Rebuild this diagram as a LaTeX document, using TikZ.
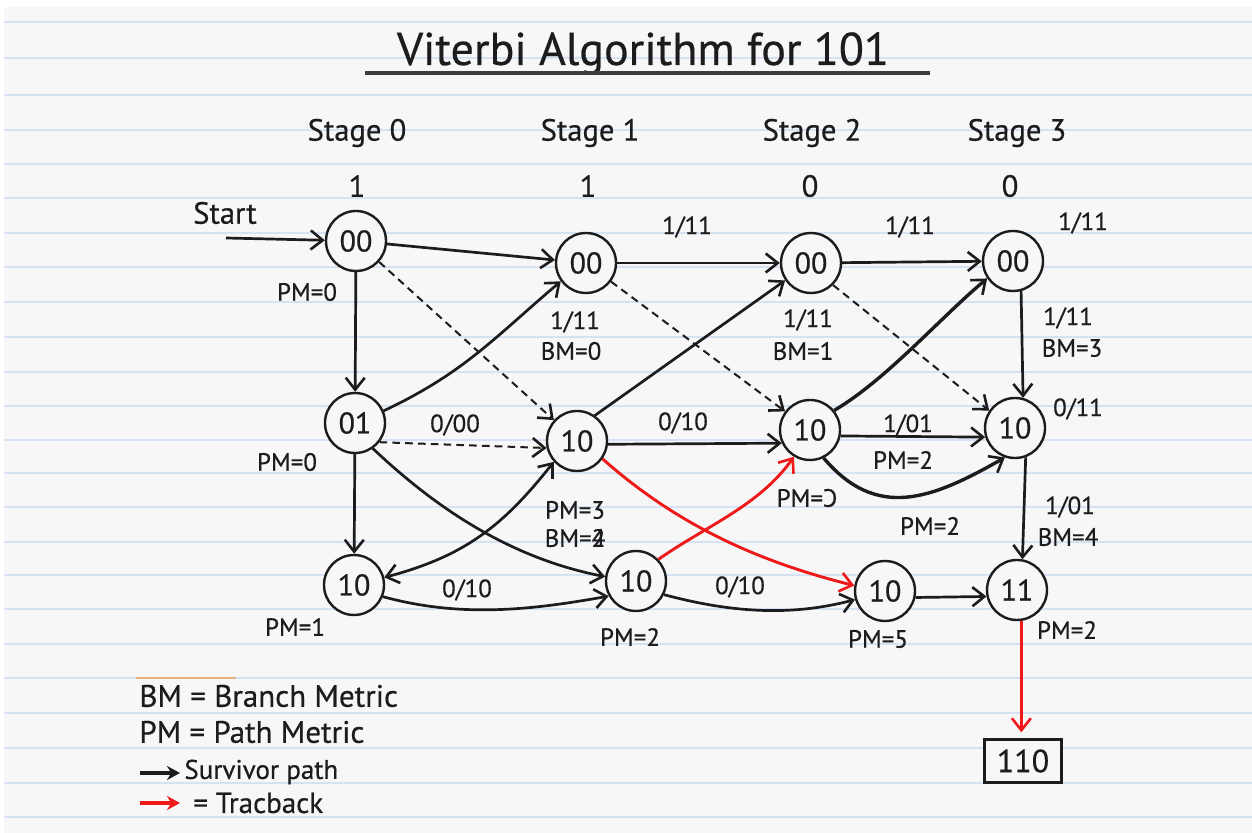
\documentclass[tikz,border=0pt]{standalone}
\usepackage{fontspec}
\setmainfont{PT Sans}[FakeBold=0.5]
\usepackage{graphicx}
\usetikzlibrary{arrows.meta}
\definecolor{paper}{HTML}{F7F7F7}
\definecolor{rulec}{HTML}{D6E2F3}
\definecolor{ink}{HTML}{1C1C1C}
\definecolor{tred}{HTML}{EE1A1A}
\definecolor{orng}{HTML}{E9B27C}
\begin{document}
\begin{tikzpicture}[x=0.5pt,y=-0.5pt,
  st/.style={circle, draw=ink, line width=1.2pt, minimum size=30pt, inner sep=0pt,
    fill=paper, text=ink, font=\fontsize{15}{17}\selectfont},
  tip/.tip={Straight Barb[length=6pt,width=9.5pt,line width=1.3pt]},
  e/.style={draw=ink, line width=1.35pt, -tip},
  eb/.style={e, line width=1.7pt},
  e2/.style={draw=ink, line width=1.35pt, tip-tip},
  dsh/.style={e, line width=1pt, dash pattern=on 3.8pt off 2.6pt},
  tb/.style={e, draw=tred, line width=1.45pt},
  lbl/.style={inner sep=0pt, text=ink, font=\fontsize{12.5}{14}\selectfont},
  stg/.style={inner sep=0pt, text=ink, font=\fontsize{15.3}{18}\selectfont},
  leg/.style={inner sep=0pt, text=ink, font=\fontsize{15.5}{18}\selectfont, anchor=west},
  legs/.style={inner sep=0pt, text=ink, font=\fontsize{13.5}{15}\selectfont, anchor=west},
  legarrow/.style={line width=1.8pt, -{Stealth[length=6.5pt,width=7pt]}}
]
\useasboundingbox (0,0) rectangle (1252,833);
\fill[white] (0,0) rectangle (1252,833);
\fill[paper] (4,7) rectangle (1252,833);
\foreach \yy in {22,58,95,130,164,198,233,267,302,337,372,406,440,473,507,542,575,609,644,678,713,748,783,817}
  \draw[rulec, line width=0.6pt] (4,\yy) -- (1252,\yy);

% title
\node[inner sep=0pt, text=ink, font=\fontsize{23}{27}\selectfont, anchor=base] (title) at (643,65) {Viterbi Algorithm for 101};
\coordinate (ulA) at (365,73);
\coordinate (ulB) at (930,73);
\draw[ink!85, line width=2pt] (ulA) -- (ulB);

% stage headings
\node[stg] (sg0) at (357,133) {Stage 0};
\node[stg] (sg1) at (590,133) {Stage 1};
\node[stg] (sg2) at (812,133) {Stage 2};
\node[stg] (sg3) at (1017,133) {Stage 3};
\node[stg] (bit0) at (357,186) {1};
\node[stg] (bit1) at (588,186) {1};
\node[stg] (bit2) at (810,186) {0};
\node[stg] (bit3) at (1010,186) {0};

% states
\node[st] (s00) at (356,241) {00};
\node[st] (s01) at (355,423) {01};
\node[st] (s10) at (354,585) {10};
\node[st] (t00) at (586,263) {00};
\node[st] (t10) at (577,441) {10};
\node[st] (t10b) at (636,581) {10};
\node[st] (u00) at (811,263) {00};
\node[st] (u10) at (810,430) {10};
\node[st] (u10b) at (885,591) {10};
\node[st] (v00) at (1013,261) {00};
\node[st] (v10) at (1015,428) {10};
\node[st] (v11) at (1017,590) {11};
\node[draw=ink, line width=1.2pt, minimum width=38.5pt, minimum height=21.5pt, inner sep=0pt,
  fill=paper, text=ink, font=\fontsize{16}{18}\selectfont] (res) at (1023,761) {110};

% start
\node[stg] (startlbl) at (225,213) {Start};
\coordinate (startpt) at (226,238);
\draw[e] (startpt) -- (s00);

% stage 0 -> 1
\draw[e] (s00) -- (t00);
\draw[dsh] (s00) -- (t10);
\draw[e] (s00) -- (s01);
\draw[e] (s01.23) .. controls (464,373) and (494,338) .. (t00.-144);
\draw[dsh] (s01.-38) -- (t10.193);
\draw[e] (s01) -- (s10);
\draw[e] (s01.-55) .. controls (441,513) and (515,559) .. (t10b.172);
\draw[e2] (s10.14) .. controls (465,556) and (503,526) .. (t10.-138);
\draw[e] (s10.-22) .. controls (461,618) and (531,610) .. (t10b.209);

% stage 1 -> 2
\draw[e] (t00) -- (u00);
\draw[dsh] (t00) -- (u10);
\draw[e] (t10.55) -- (u00.-146);
\draw[e] (t10.-6) -- (u10.205);
\draw[tb] (t10.-35) .. controls (676,524) and (756,561) .. (u10b.170);
\draw[tb] (t10b.44) .. controls (706,526) and (759,506) .. (u10.-121);
\draw[e] (t10b.-26) .. controls (729,612) and (789,617) .. (u10b.196);

% stage 2 -> 3
\draw[e] (u00) -- (v00);
\draw[dsh] (u00.-45) -- (v10.146);
\draw[eb] (u10.39) .. controls (886,380) and (940,318) .. (v00.-146);
\draw[e] (u10.-11) -- (v10.197);
\draw[eb] (u10.-64) .. controls (877,521) and (932,499) .. (v10.-109);
\draw[e] (v00.-75) -- (v10.75);
\draw[e] (v10.-70) -- (v11.80);
\draw[e] (u10b.-12) -- (v11.192);
\draw[tb, shorten >=3pt] (v11.-82) -- (v11.-82 |- res.north);

% branch / metric labels
\node[lbl] (pmA) at (307,292) {PM=0};
\node[lbl] (brA) at (575,322) {1/11};
\node[lbl] (bmA) at (571,351) {BM=0};
\node[lbl] (brB) at (455,425) {0/00};
\node[lbl] (pmB) at (287,462) {PM=0};
\node[lbl] (brC) at (687,227) {1/11};
\node[lbl] (brD) at (910,227) {1/11};
\node[lbl] (brE) at (1083,223) {1/11};
\node[lbl] (brF) at (808,320) {1/11};
\node[lbl] (bmF) at (803,351) {BM=1};
\node[lbl] (brG) at (683,423) {0/10};
\node[lbl] (brH) at (908,425) {1/01};
\node[lbl] (pmH) at (903,460) {PM=2};
\node[lbl] (brI) at (1068,318) {1/11};
\node[lbl] (bmI) at (1072,348) {BM=3};
\node[lbl] (brJ) at (1078,409) {0/11};
\node[lbl] (pmK) at (575,510) {PM=3};
\node[lbl] (bmK) at (575,538) {BM=\rlap{2}4};
\node[lbl] (brL) at (467,590) {0/10};
\node[lbl] (pmL) at (295,627) {PM=1};
\node[lbl] (pmM) at (630,637) {PM=2};
\node[lbl] (pmN) at (807,498) {PM=\reflectbox{C}};
\node[lbl] (pmO) at (930,526) {PM=2};
\node[lbl] (brP) at (740,587) {0/10};
\node[lbl] (pmP) at (878,639) {PM=5};
\node[lbl] (brQ) at (1070,507) {1/01};
\node[lbl] (bmQ) at (1068,537) {BM=4};
\node[lbl] (pmQ) at (1067,630) {PM=2};

% legend
\coordinate (orA) at (136,678);
\coordinate (orB) at (236,678);
\draw[orng, line width=0.7pt] (orA) -- (orB);
\node[leg] (lg1) at (139,696) {BM = Branch Metric};
\node[leg] (lg2) at (139,732) {PM = Path Metric};
\coordinate (la1) at (140,773);
\coordinate (la2) at (180,773);
\draw[legarrow, ink] (la1) -- (la2);
\node[legs] (lg3) at (184,772) {Survivor path};
\coordinate (lb1) at (140,803);
\coordinate (lb2) at (180,803);
\draw[legarrow, tred] (lb1) -- (lb2);
\node[legs, font=\fontsize{14.5}{16}\selectfont] (lg4) at (193,803) {= Tracback};
\end{tikzpicture}
\end{document}
